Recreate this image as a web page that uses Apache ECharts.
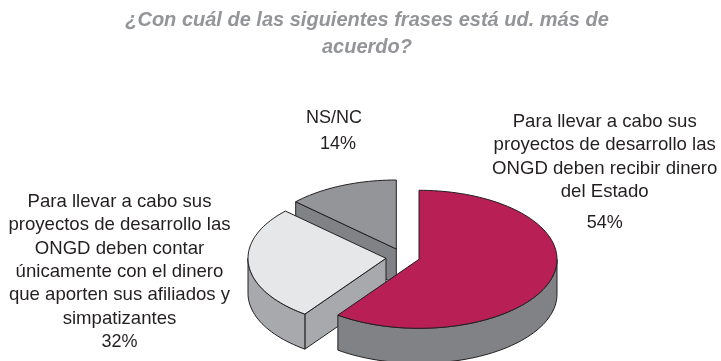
<!DOCTYPE html>
<html>
<head>
<meta charset="utf-8">
<style>html,body{margin:0;padding:0;background:#fff}#c{width:721px;height:361px}</style>
<script src="https://cdn.jsdelivr.net/npm/echarts@6/dist/echarts.min.js"></script>
</head>
<body>
<div id="c"></div>
<script>
// Printed percentages, as labelled in the picture
const categories = ['Estado', 'Afiliados', 'NS/NC'];
const printedPercents = ['54%', '32%', '14%'];
// Shares of the circle as actually drawn in the picture
const drawnShares = [60, 27, 13];
const labelEstado = 'Para llevar a cabo sus\nproyectos de desarrollo las\nONGD deben recibir dinero\ndel Estado';
const labelAfiliados = 'Para llevar a cabo sus\nproyectos de desarrollo las\nONGD deben contar\núnicamente con el dinero\nque aporten sus afiliados y\nsimpatizantes';
const labelNs = 'NS/NC';
const titleText = '¿Con cuál de las siguientes frases está ud. más de\nacuerdo?';

const FONT = '"Liberation Sans", Arial, sans-serif';
const RX = 138, RY = 69, DEPTH = 35;
const centers = [[419, 259.3], [386, 258.3], [396.3, 249]];
const topColors = ['#b71f55', '#e6e7e8', '#939598'];
const outerColors = ['#808285', '#a7a9ac', '#808285'];
const cutColors = [null, '#a7a9ac', '#808285'];
const STROKE = '#231f20';

function pt(c, deg, dy) {
  const r = deg * Math.PI / 180;
  return [c[0] + RX * Math.sin(r), c[1] - RY * Math.cos(r) + (dy || 0)];
}
function arc(c, a, b, dy) {
  const out = [], n = Math.max(2, Math.ceil(Math.abs(b - a) / 2));
  for (let i = 0; i <= n; i++) out.push(pt(c, a + (b - a) * i / n, dy));
  return out;
}
function poly(points, fill, z2) {
  return { type: 'polygon', shape: { points: points }, z2: z2,
    style: { fill: fill, stroke: STROKE, lineWidth: 1, lineJoin: 'round' } };
}
const total = drawnShares.reduce((a, b) => a + b, 0);

function renderItem(params, api) {
  const i = params.dataIndex;
  let start = 0;
  for (let k = 0; k < i; k++) start += drawnShares[k];
  const a = start / total * 360;
  const b = a + api.value(0) / total * 360;
  const c = centers[i];
  const base = (2 - i) * 10;
  const children = [];
  // cut face along the leading radius when it faces the viewer
  if (cutColors[i]) {
    const p = pt(c, a);
    children.push(poly([c, p, [p[0], p[1] + DEPTH], [c[0], c[1] + DEPTH]], cutColors[i], base + 1));
  }
  // outer wall on the front half of the ellipse
  const wa = Math.max(a, 90), wb = Math.min(b, 270);
  if (wb > wa) {
    children.push(poly(arc(c, wa, wb).concat(arc(c, wb, wa, DEPTH)), outerColors[i], base + 2));
  }
  // top face
  children.push(poly([c].concat(arc(c, a, b)), topColors[i], base + 3));
  return { type: 'group', children: children };
}
function textEl(text, x, y, size) {
  return { type: 'text', x: x, y: y, silent: true,
    style: { text: text, font: size + 'px ' + FONT, fill: '#231f20', align: 'center', verticalAlign: 'top', lineHeight: 23.4 } };
}
const chart = echarts.init(document.getElementById('c'), null, { renderer: 'canvas' });
chart.setOption({
  animation: false,
  backgroundColor: '#ffffff',
  title: {
    text: titleText, left: 362, top: 2, textAlign: 'center',
    textStyle: { fontFamily: FONT, fontSize: 20, fontStyle: 'italic', fontWeight: 'bold', color: '#939598', lineHeight: 27 }
  },
  graphic: [
    textEl(labelEstado, 604.7, 110, 18.6),
    textEl(printedPercents[0], 604.7, 211, 18),
    textEl(labelAfiliados, 119.5, 190, 18.6),
    textEl(printedPercents[1], 119.5, 330, 18),
    textEl(labelNs, 334, 106.6, 18),
    textEl(printedPercents[2], 338, 132, 18)
  ],
  series: [{
    type: 'custom', coordinateSystem: 'none', renderItem: renderItem,
    data: drawnShares.map((v, i) => ({ name: categories[i], value: [v] }))
  }]
});
</script>
</body>
</html>
